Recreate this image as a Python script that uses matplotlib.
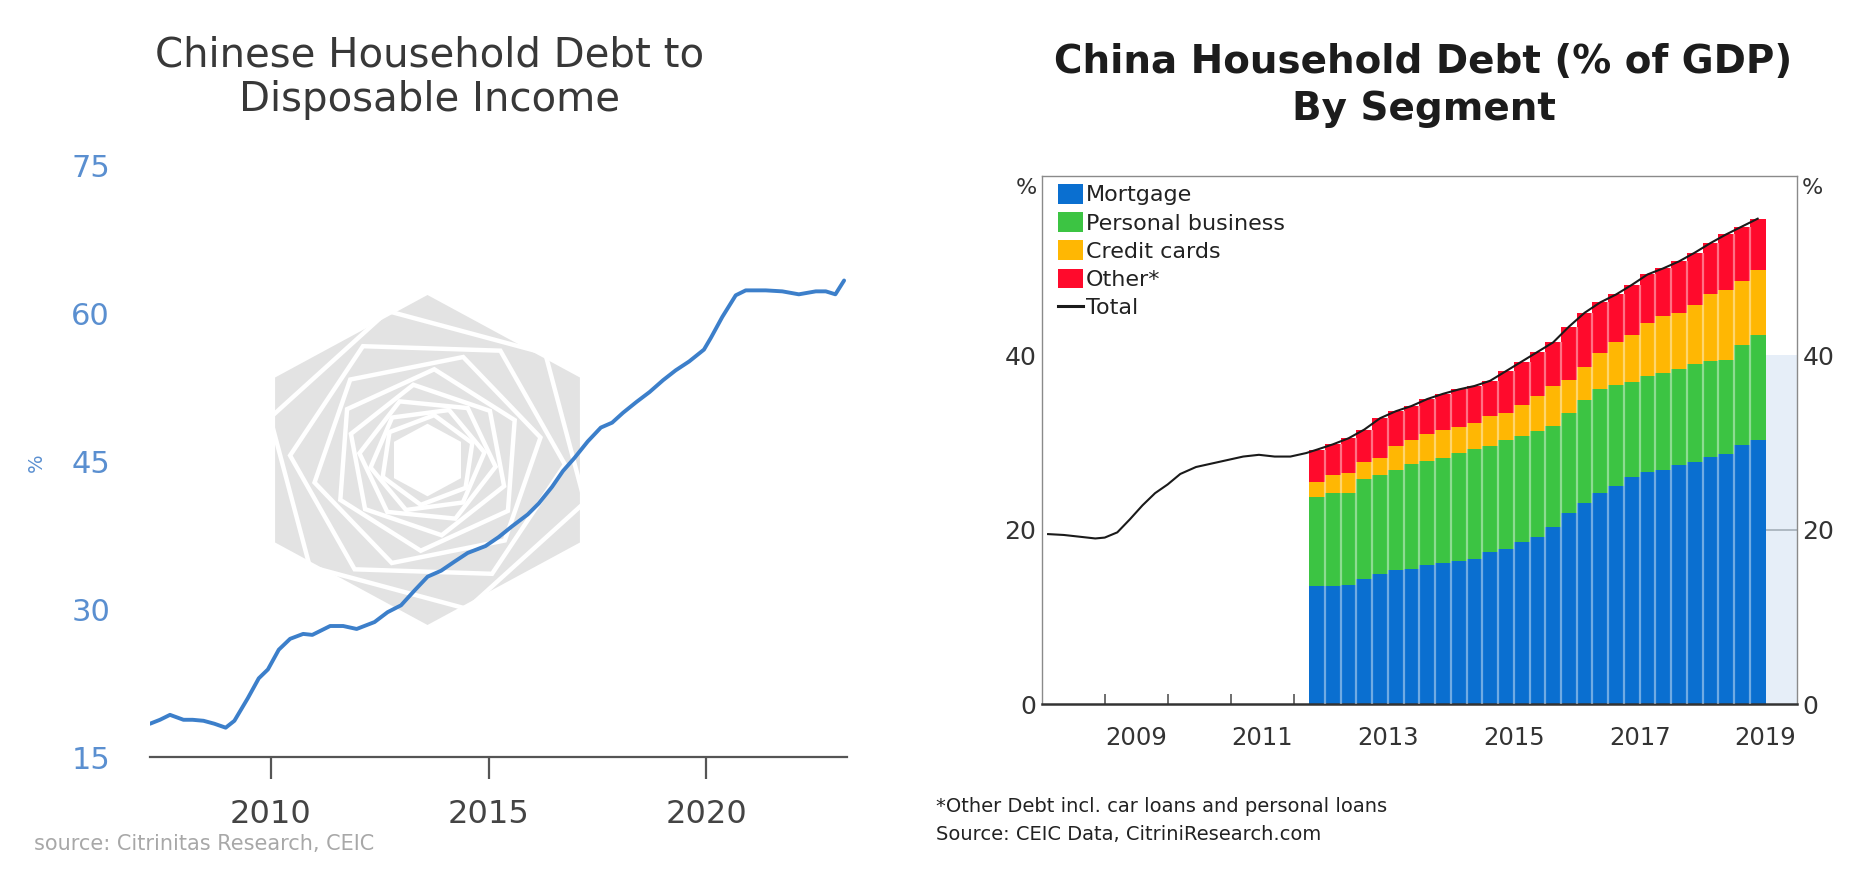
import numpy as np
import matplotlib
matplotlib.use("Agg")
import matplotlib.pyplot as plt
from matplotlib.patches import Polygon, Patch
from matplotlib.lines import Line2D
import matplotlib.transforms as mtransforms

plt.rcParams['font.family'] = ['DejaVu Sans']

# ---------------- Left chart data: household debt / disposable income (%) ----------------
left_years = [2007.22, 2007.45, 2007.68, 2007.99, 2008.2, 2008.45, 2008.7, 2008.96, 2009.16,
              2009.47, 2009.72, 2009.93, 2010.18, 2010.44, 2010.74, 2010.95, 2011.36, 2011.66,
              2011.97, 2012.38, 2012.68, 2012.99, 2013.3, 2013.6, 2013.91, 2014.21, 2014.52,
              2014.93, 2015.23, 2015.54, 2015.9, 2016.15, 2016.46, 2016.71, 2016.97, 2017.28,
              2017.58, 2017.84, 2018.09, 2018.4, 2018.7, 2019.01, 2019.3, 2019.61, 2019.95,
              2020.11, 2020.37, 2020.68, 2020.91, 2021.37, 2021.75, 2022.13, 2022.52, 2022.75,
              2022.97, 2023.17]
left_values = [18.4, 18.8, 19.3, 18.8, 18.8, 18.7, 18.4, 18.0, 18.7,
               21.0, 23.0, 23.9, 25.9, 27.0, 27.5, 27.4, 28.3, 28.3,
               28.0, 28.7, 29.7, 30.4, 31.9, 33.3, 33.9, 34.8, 35.7,
               36.4, 37.3, 38.4, 39.6, 40.7, 42.4, 44.0, 45.3, 47.0,
               48.4, 48.9, 49.9, 51.0, 52.0, 53.2, 54.2, 55.1, 56.3,
               57.5, 59.6, 61.8, 62.3, 62.3, 62.2, 61.9, 62.2, 62.2,
               61.9, 63.3]
left_xticks = [2010, 2015, 2020]
left_yticks = [15, 30, 45, 60, 75]

# ---------------- Right chart data: household debt by segment (% of GDP) ----------------
bar_periods = ["2012Q2", "2012Q3", "2012Q4",
               "2013Q1", "2013Q2", "2013Q3", "2013Q4",
               "2014Q1", "2014Q2", "2014Q3", "2014Q4",
               "2015Q1", "2015Q2", "2015Q3", "2015Q4",
               "2016Q1", "2016Q2", "2016Q3", "2016Q4",
               "2017Q1", "2017Q2", "2017Q3", "2017Q4",
               "2018Q1", "2018Q2", "2018Q3", "2018Q4",
               "2019Q1", "2019Q2"]
mortgage = [13.5, 13.5, 13.7, 14.3, 14.9, 15.4, 15.5, 16.0, 16.2, 16.4, 16.6, 17.4, 17.8, 18.6,
            19.2, 20.3, 21.9, 23.1, 24.2, 25.0, 26.0, 26.6, 26.8, 27.4, 27.8, 28.4, 28.7, 29.7, 30.3]
personal_business = [10.3, 10.7, 10.5, 11.5, 11.4, 11.5, 12.0, 11.9, 12.0, 12.4, 12.7, 12.2, 12.5, 12.2,
                     12.1, 11.6, 11.5, 11.8, 11.9, 11.6, 11.0, 11.0, 11.2, 11.0, 11.2, 11.0, 10.8, 11.5, 12.0]
credit_cards = [1.7, 2.1, 2.3, 2.0, 1.9, 2.7, 2.8, 3.1, 3.3, 3.0, 3.0, 3.4, 3.1, 3.5,
                4.0, 4.6, 3.8, 3.8, 4.2, 4.9, 5.3, 6.1, 6.5, 6.5, 6.8, 7.6, 8.0, 7.4, 7.5]
other = [3.7, 3.5, 4.0, 3.7, 4.6, 4.0, 3.9, 4.0, 4.1, 4.3, 4.2, 4.1, 4.8, 5.0,
         5.1, 5.0, 6.1, 6.2, 5.8, 5.5, 5.8, 5.6, 5.5, 5.9, 6.0, 5.9, 6.4, 6.2, 5.9]
total_pre_years = [2008.1, 2008.35, 2008.6, 2008.85, 2009.0, 2009.2, 2009.4, 2009.6, 2009.8,
                   2010.0, 2010.2, 2010.45, 2010.7, 2010.95, 2011.2, 2011.45, 2011.7, 2011.95, 2012.2]
total_pre_values = [19.5, 19.4, 19.2, 19.0, 19.1, 19.7, 21.2, 22.8, 24.2,
                    25.2, 26.4, 27.2, 27.6, 28.0, 28.4, 28.6, 28.4, 28.4, 28.8]
segment_labels = ["Mortgage", "Personal business", "Credit cards", "Other*"]
segment_colors = ["#0a6fd0", "#3cc443", "#ffb703", "#ff0a2c"]
right_xlabels = ["2009", "2011", "2013", "2015", "2017", "2019"]
right_yticks = [0, 20, 40]

W, H = 1874, 882
fig = plt.figure(figsize=(W / 100, H / 100), dpi=100)

# ---------------- watermark (background) ----------------
bg = fig.add_axes([0, 0, 1, 1], zorder=0)
bg.set_xlim(0, W)
bg.set_ylim(H, 0)
bg.axis('off')
cx, cy, rx, ry = 427.5, 460, 176, 165
ang = np.deg2rad(90 + 60 * np.arange(6))
bg.add_patch(Polygon(np.c_[cx + rx * np.cos(ang), cy - ry * np.sin(ang)],
                     closed=True, facecolor='#e3e3e3', edgecolor='none'))
for k in range(8):
    s = 0.93 * 0.84 ** k
    a = ang + np.deg2rad(14 * (k + 1))
    bg.add_patch(Polygon(np.c_[cx + s * rx * np.cos(a), cy - s * ry * np.sin(a)],
                         closed=True, facecolor='none', edgecolor='white', lw=3.2))
bg.add_patch(Polygon(np.c_[cx + 0.22 * rx * np.cos(ang), cy - 0.22 * ry * np.sin(ang)],
                     closed=True, facecolor='white', edgecolor='none'))

# ---------------- Left chart ----------------
ax1 = fig.add_axes([150.4 / W, 1 - 757.3 / H, (846.7 - 150.4) / W, (757.3 - 165) / H], zorder=1)
ax1.patch.set_alpha(0)
ax1.plot(left_years, left_values, color='#3c7fca', lw=2.8, solid_capstyle='round')
ax1.set_xlim(2007.23, 2023.23)
ax1.set_ylim(15, 75)
for sp in ['top', 'right', 'left']:
    ax1.spines[sp].set_visible(False)
ax1.spines['bottom'].set_color('#555555')
ax1.spines['bottom'].set_linewidth(1.6)
ax1.set_xticks(left_xticks)
ax1.set_xticklabels([str(v) for v in left_xticks])
ax1.set_yticks(left_yticks)
ax1.set_yticklabels([str(v) for v in left_yticks])
ax1.tick_params(axis='x', direction='out', length=16, width=1.6, color='#555555',
                labelsize=23, labelcolor='#444444', pad=14)
ax1.tick_params(axis='y', length=0, labelsize=22, labelcolor='#5a8fd0', pad=29)
fig.text(36 / W, 1 - 463 / H, '%', rotation=90, color='#5a8fd0', fontsize=14,
         ha='center', va='center')
fig.text(430 / W, 1 - 78 / H, "Chinese Household Debt to\nDisposable Income",
         ha='center', va='center', fontsize=29, color='#383838', linespacing=1.15)
fig.text(34 / W, 1 - 844 / H, "source: Citrinitas Research, CEIC", fontsize=15,
         color='#a8a8a8', ha='left', va='center')

# ---------------- Right chart ----------------
ax2 = fig.add_axes([1041.8 / W, 1 - 704 / H, (1797 - 1041.8) / W, (704 - 176) / H], zorder=1)
x = np.array([int(p[:4]) + (int(p[-1]) - 1) * 0.25 + 0.125 for p in bar_periods])
ax2.set_xlim(2008, 2020)
ax2.set_ylim(0, 60.6)

# light shaded region after the last bar
x_end = x[-1] + 0.125
ax2.fill_between([x_end, 2020], 0, 40, color='#e6eef8', lw=0, zorder=1)
ax2.hlines(20, x_end, 2020, color='#aab4be', lw=1.3, zorder=1)

bottom = np.zeros(len(x))
for vals, col in zip([mortgage, personal_business, credit_cards, other], segment_colors):
    vals = np.array(vals)
    ax2.bar(x, vals, width=0.25, bottom=bottom, color=col, linewidth=0, zorder=2)
    bottom = bottom + vals
total = bottom
edges = x[1:] - 0.125
ax2.vlines(edges, 0, np.minimum(total[:-1], total[1:]), colors='white', alpha=0.42, lw=1.6, zorder=3)

tl_x = np.concatenate([total_pre_years, x])
tl_y = np.concatenate([total_pre_values, total])
ax2.plot(tl_x, tl_y, color='#1a1a1a', lw=1.5, zorder=4)

for sp in ['top', 'left', 'right']:
    ax2.spines[sp].set_color('#8a8a8a')
    ax2.spines[sp].set_linewidth(1.0)
ax2.spines['bottom'].set_color('#333333')
ax2.spines['bottom'].set_linewidth(1.8)

ax2.set_xticks(range(2009, 2020), minor=True)
ax2.set_xticks([int(l) + 0.5 for l in right_xlabels])
ax2.set_xticklabels(right_xlabels)
ax2.tick_params(axis='x', which='minor', direction='in', length=7, width=1.2, color='#555555')
ax2.tick_params(axis='x', which='major', length=0, labelsize=17.5, labelcolor='#333333', pad=16)
ax2.set_yticks(right_yticks)
ax2.set_yticklabels([str(v) for v in right_yticks])
ax2.tick_params(axis='y', length=0, labelsize=18, labelcolor='#333333', pad=4,
                labelleft=True, labelright=True)
trans = mtransforms.blended_transform_factory(ax2.transAxes, ax2.transData)
ax2.text(-0.006, 59.2, '%', transform=trans, ha='right', va='center', fontsize=16, color='#333333')
ax2.text(1.006, 59.2, '%', transform=trans, ha='left', va='center', fontsize=16, color='#333333')

handles = [Patch(facecolor=c, edgecolor='none') for c in segment_colors]
handles.append(Line2D([], [], color='#1a1a1a', lw=2.2))
leg = ax2.legend(handles, segment_labels + ["Total"], loc='upper left',
                 bbox_to_anchor=(0.022, 0.985), frameon=False, fontsize=16,
                 handlelength=1.1, handleheight=1.0, handletextpad=0.15,
                 labelspacing=0.3, borderaxespad=0, borderpad=0)
for t in leg.get_texts():
    t.set_color('#222222')

fig.text(1423.6 / W, 1 - 85 / H, "China Household Debt (% of GDP)\nBy Segment",
         ha='center', va='center', fontsize=28, fontweight='bold', color='#1c1c1c',
         linespacing=1.3)
fig.text(936 / W, 1 - 806 / H, "*Other Debt incl. car loans and personal loans",
         ha='left', va='center', fontsize=14, color='#222222')
fig.text(936 / W, 1 - 834 / H, "Source: CEIC Data, CitriniResearch.com",
         ha='left', va='center', fontsize=14, color='#222222')

fig.savefig('out.png', dpi=100, facecolor='white')
